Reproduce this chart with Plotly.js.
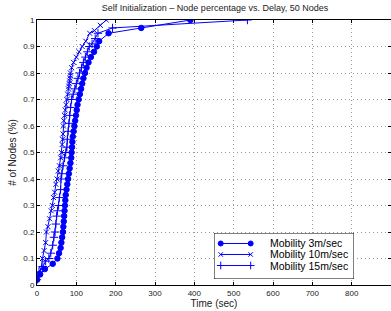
<!DOCTYPE html>
<html><head><meta charset="utf-8">
<script src="https://cdn.plot.ly/plotly-3.0.1.min.js"></script>
<style>html,body{margin:0;padding:0;background:#fff}#c{width:391px;height:311px}</style>
</head><body><div id="c"></div>
<script>
const seriesNames = ["Mobility 3m/sec", "Mobility 10m/sec", "Mobility 15m/sec"];
const seriesSymbols = ["circle", "x-thin-open", "cross-thin-open"];
const seriesSizes = [5.5, 5, 6];

const x3 = [0, 8, 20, 40, 52, 56, 60, 62, 64, 66, 67, 68, 69, 70, 71, 72, 73, 75, 77, 79, 81, 83, 85, 87, 88, 89, 90, 91, 93, 95, 97, 99, 101, 103, 106, 109, 112, 115, 118, 122, 126, 131, 137, 145, 152, 158, 182, 265, 390];
const y3 = [0.02, 0.04, 0.06, 0.08, 0.10, 0.12, 0.14, 0.16, 0.18, 0.20, 0.22, 0.24, 0.26, 0.28, 0.30, 0.32, 0.34, 0.36, 0.38, 0.40, 0.42, 0.44, 0.46, 0.48, 0.50, 0.52, 0.54, 0.56, 0.58, 0.60, 0.62, 0.64, 0.66, 0.68, 0.70, 0.72, 0.74, 0.76, 0.78, 0.80, 0.82, 0.84, 0.86, 0.88, 0.90, 0.92, 0.95, 0.97, 1.00];

const x10 = [0, 6, 10, 14, 18, 22, 24, 28, 32, 36, 39, 42, 45, 48, 51, 54, 57, 60, 62, 64, 65, 66, 67, 68, 70, 72, 74, 76, 78, 80, 81, 82, 83, 84, 85, 85, 88, 93, 100, 107, 115, 124, 134, 146, 161, 176];
const y10 = [0.02, 0.04, 0.06, 0.10, 0.13, 0.16, 0.20, 0.22, 0.25, 0.28, 0.30, 0.33, 0.35, 0.38, 0.40, 0.43, 0.45, 0.48, 0.50, 0.53, 0.55, 0.57, 0.60, 0.62, 0.64, 0.66, 0.68, 0.70, 0.72, 0.74, 0.75, 0.76, 0.77, 0.78, 0.79, 0.80, 0.82, 0.84, 0.86, 0.88, 0.90, 0.92, 0.95, 0.96, 0.98, 1.00];

const x15 = [0, 5, 15, 22, 30, 35, 40, 43, 46, 48, 50, 52, 55, 57, 60, 61, 63, 66, 70, 73, 76, 77, 79, 81, 83, 85, 88, 92, 96, 100, 104, 108, 113, 118, 123, 128, 133, 140, 148, 155, 192, 535];
const y15 = [0.02, 0.05, 0.07, 0.09, 0.10, 0.12, 0.15, 0.18, 0.20, 0.23, 0.26, 0.28, 0.30, 0.33, 0.36, 0.40, 0.42, 0.45, 0.48, 0.50, 0.52, 0.55, 0.58, 0.61, 0.64, 0.67, 0.70, 0.72, 0.74, 0.76, 0.78, 0.80, 0.82, 0.84, 0.86, 0.88, 0.90, 0.91, 0.93, 0.95, 0.97, 1.00];

const xTicks = [0, 100, 200, 300, 400, 500, 600, 700, 800, 900];
const yTicks = [0, 0.1, 0.2, 0.3, 0.4, 0.5, 0.6, 0.7, 0.8, 0.9, 1];

/* legend layout (a small hidden subplot acting as the legend box) */
const legendRowY = [0.772, 0.533, 0.293];
const legendSampleX = [0.048, 0.262];
const legendTextX = 0.385;

const blue = "rgb(0,0,255)";
const font = "Liberation Sans, Arial, sans-serif";
const seriesX = [x3, x10, x15];
const seriesY = [y3, y10, y15];

const data = [];
for (let i = 0; i < 3; i++) {
  data.push({
    x: seriesX[i], y: seriesY[i], name: seriesNames[i], type: "scatter", mode: "lines+markers",
    line: {color: blue, width: 1},
    marker: {symbol: seriesSymbols[i], size: seriesSizes[i], color: blue, line: {color: blue, width: 1}},
    showlegend: false
  });
}
for (let i = 0; i < 3; i++) {
  data.push({
    x: legendSampleX, y: [legendRowY[i], legendRowY[i]], xaxis: "x2", yaxis: "y2",
    type: "scatter", mode: "lines+markers", showlegend: false, hoverinfo: "skip", cliponaxis: false,
    line: {color: blue, width: 1},
    marker: {symbol: seriesSymbols[i], size: seriesSizes[i] - 0.5, color: blue, line: {color: blue, width: 1}}
  });
}

const axisCommon = {
  showline: true, mirror: "ticks", linecolor: "#000", linewidth: 1,
  ticks: "inside", ticklen: 3, tickcolor: "#000",
  showgrid: true, gridcolor: "rgb(150,150,150)", griddash: "1px,3px", gridwidth: 1,
  zeroline: false, tickfont: {family: font, size: 8, color: "#222"}
};

const annotations = seriesNames.map((t, i) => ({
  xref: "x2", yref: "y2", x: legendTextX, y: legendRowY[i], text: t,
  showarrow: false, xanchor: "left", yanchor: "middle",
  font: {family: font, size: 10.5, color: "#000"}
}));

const layout = {
  width: 391, height: 311,
  margin: {l: 37, r: 0, t: 20, b: 26},
  paper_bgcolor: "#fff", plot_bgcolor: "rgba(0,0,0,0)",
  font: {family: font, color: "#000"},
  title: {text: "Self Initialization \u2013 Node percentage vs. Delay, 50 Nodes",
          font: {size: 9, color: "#222"}, x: 0.55, xanchor: "center", y: 0.985, yanchor: "top"},
  xaxis: Object.assign({}, axisCommon, {
    range: [0, 900], tickvals: xTicks, ticktext: xTicks.map(String),
    title: {text: "Time (sec)", font: {size: 10, color: "#222"}, standoff: 2}
  }),
  yaxis: Object.assign({}, axisCommon, {
    range: [0, 1], tickvals: yTicks, ticktext: yTicks.map(String),
    title: {text: "# of Nodes (%)", font: {size: 10, color: "#222"}, standoff: 4}
  }),
  xaxis2: {domain: [0.5, 0.8955], range: [0, 1], visible: false, anchor: "y2", fixedrange: true},
  yaxis2: {domain: [0.0226, 0.1962], range: [0, 1], visible: false, anchor: "x2", fixedrange: true},
  shapes: [{type: "rect", xref: "x2", yref: "y2", x0: 0, x1: 1, y0: 0, y1: 1,
            fillcolor: "#fff", line: {color: "#000", width: 1}, layer: "below"}],
  annotations: annotations,
  showlegend: false
};

Plotly.newPlot("c", data, layout, {displayModeBar: false, staticPlot: true});
</script>
</body></html>
